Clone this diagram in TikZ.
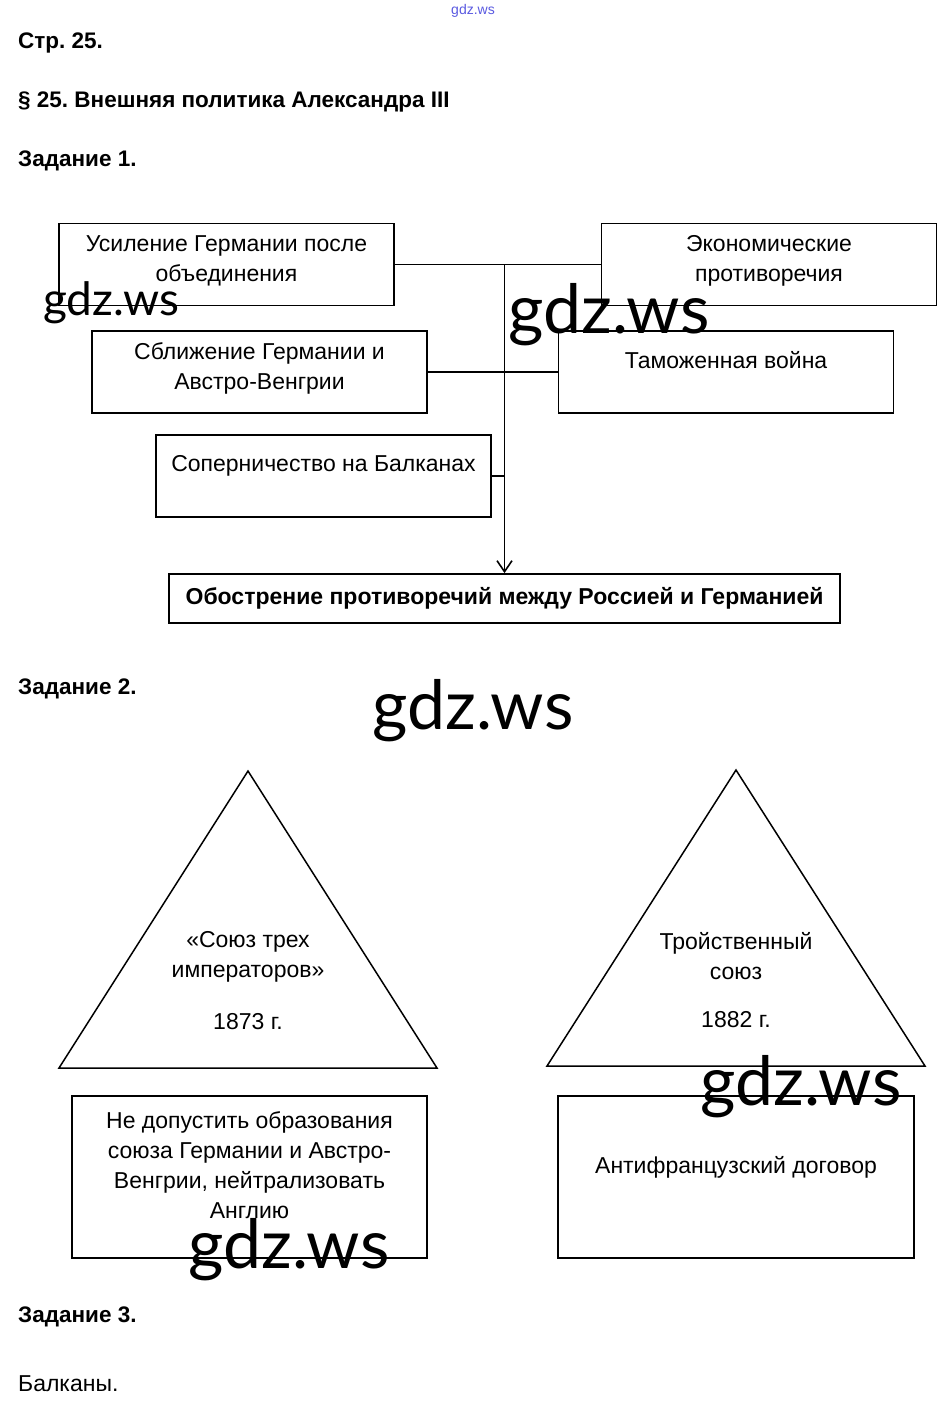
\documentclass[tikz,border=0pt]{standalone}
\usepackage{fontspec}
\setmainfont{Liberation Sans}
\newfontfamily\wmfont{Lato}
\usetikzlibrary{arrows.meta,positioning,calc}
\definecolor{sitecolor}{RGB}{90,90,225}
\frenchspacing

\begin{document}
\begin{tikzpicture}[x=1pt,y=-1pt,font=\fontsize{23}{30}\selectfont]
\tikzstyle{box}=[draw=black,line width=1.8pt,minimum width=335pt,minimum height=82pt,inner sep=0pt]
\tikzstyle{txt}=[inner sep=0pt,align=center]
\tikzstyle{link}=[-,line width=1.5pt]
\tikzstyle{tri}=[draw=black,line width=1.5pt,line join=miter]
\tikzstyle{head}=[anchor=west,inner sep=0pt,font=\fontsize{22.5}{24}\selectfont\bfseries]
\tikzstyle{wmark}=[inner sep=0pt,font=\wmfont\fontsize{68}{68}\selectfont]

\fill[white] (0,0) rectangle (946,1408);
\useasboundingbox (0,0) rectangle (946,1408);

% headings
\node[inner sep=0pt,text=sitecolor,font=\fontsize{14}{14}\selectfont] (site) at (473,11) {gdz.ws};
\node[head] (page) at (18,43) {Стр. 25.};
\node[head] (para) at (18,102) {§ 25. Внешняя политика Александра III};
\node[head] (task1) at (18,161) {Задание 1.};
\node[head] (task2) at (18,689) {Задание 2.};
\node[head] (task3) at (18,1317) {Задание 3.};
\node[anchor=west,inner sep=0pt] (answer3) at (18,1384) {Балканы.};

% task 1
\node[box] (usil) at (226.5,264.5) {};
\node[box] (econ) at (769,264.5) {};
\node[box] (sblizh) at (259.5,372) {};
\node[box] (tamozh) at (726,372) {};
\node[box] (soper) at (323.5,476) {};
\node[box,minimum width=671pt,minimum height=49pt,font=\fontsize{23}{26}\selectfont\bfseries] (obostr) at (504.5,598.5) {Обострение противоречий между Россией и Германией};

\node[txt,below=13pt of usil.north] (usiltext) {Усиление Германии после\\объединения};
\node[txt,below=13pt of econ.north] (econtext) {Экономические\\противоречия};
\node[txt,below=12pt of sblizh.north] (sblizhtext) {Сближение Германии и\\Австро-Венгрии};
\node[txt,below=21pt of tamozh.north] (tamozhtext) {Таможенная война};
\node[txt,below=21pt of soper.north] (sopertext) {Соперничество на Балканах};

\draw[link] (usil) -- (econ);
\draw[link] (sblizh) -- (tamozh);
\draw[link] (soper.east) -- (soper.east -| obostr.north);
\draw[link,-{Straight Barb[length=11pt,width=15pt,line width=1.6pt]}] (usil.east -| obostr.north) -- (obostr.north);

% task 2
\coordinate (triAtop) at (248,771);
\coordinate (triAleft) at (59,1068);
\coordinate (triAright) at (437,1068);
\coordinate (triBtop) at (736,770);
\coordinate (triBleft) at (547,1066);
\coordinate (triBright) at (925,1066);
\draw[tri] (triAtop) -- (triAright) -- (triAleft) -- cycle;
\draw[tri] (triBtop) -- (triBright) -- (triBleft) -- cycle;

\node[txt] (soyuz) at (248,957) {«Союз трех\\императоров»};
\node[txt] (godA) at (248,1022) {1873 г.};
\node[txt] (troy) at (736,956) {Тройственный\\союз};
\node[txt] (godB) at (736,1020) {1882 г.};

\node[box,minimum width=355pt,minimum height=162pt] (celi) at (249.5,1177) {};
\node[box,minimum width=356pt,minimum height=162pt] (dogovor) at (736,1177) {};
\node[txt,below=16pt of celi.north] (celitext) {Не допустить образования\\союза Германии и Австро-\\Венгрии, нейтрализовать\\Англию};
\node[txt,below=61pt of dogovor.north] (dogovortext) {Антифранцузский договор};

% watermarks
\node[wmark,font=\wmfont\fontsize{46}{46}\selectfont] (wm1) at (111,303) {gdz.ws};
\node[wmark] (wm2) at (609,315) {gdz.ws};
\node[wmark] (wm3) at (473,711) {gdz.ws};
\node[wmark] (wm4) at (801,1087) {gdz.ws};
\node[wmark] (wm5) at (289,1250) {gdz.ws};
\end{tikzpicture}
\end{document}
